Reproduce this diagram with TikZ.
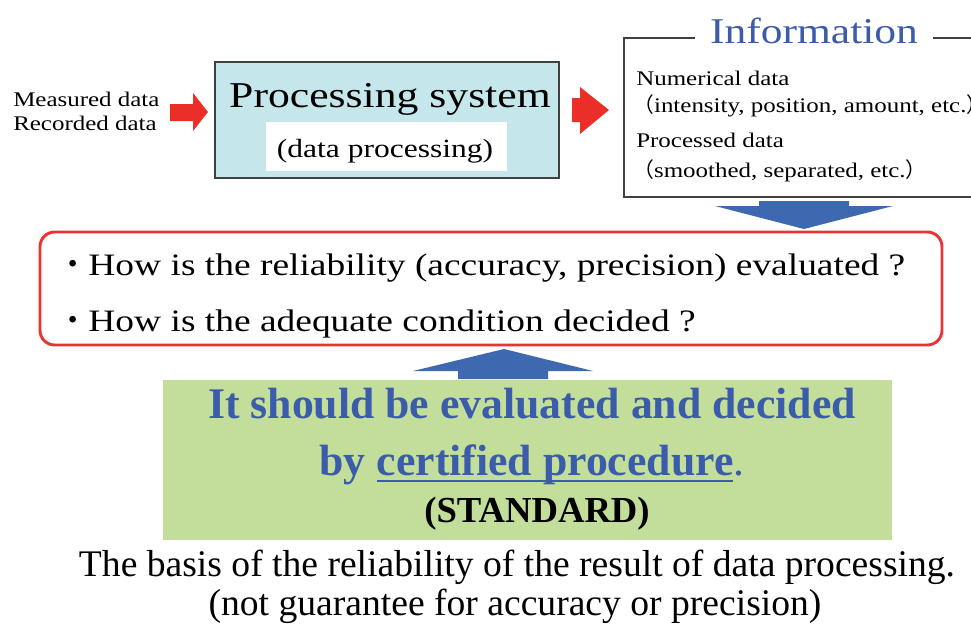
\documentclass[tikz,border=0pt]{standalone}
\usepackage{fontspec}
\setmainfont{Liberation Serif}
\newfontfamily\wideserif[FakeStretch=1.2]{Liberation Serif}
\newfontfamily\cjk{Noto Sans CJK JP}

\definecolor{arrowred}{RGB}{236,46,40}
\definecolor{boxred}{RGB}{232,52,50}
\definecolor{arrowblue}{RGB}{62,104,176}
\definecolor{textblue}{RGB}{59,92,170}
\definecolor{procfill}{RGB}{197,230,234}
\definecolor{greenfill}{RGB}{195,222,155}
\definecolor{framegray}{RGB}{64,64,64}

\newcommand{\fsz}[1]{\fontsize{#1}{#1}\selectfont}
% blue underline drawn a fixed distance below the baseline
\newcommand{\bluline}[1]{\setbox0\hbox{#1}\rlap{\color{textblue}\rule[-5.4pt]{\wd0}{1.3pt}}\box0}

\tikzset{
  txt/.style={inner sep=0pt},
  sidelabel/.style={txt, anchor=base west, font=\wideserif\fsz{15.6pt}},
  infoline/.style={txt, anchor=base west, font=\wideserif\fsz{15.6pt}},
  question/.style={txt, anchor=base west, font=\wideserif\fsz{23.4pt}},
  verdict/.style={txt, anchor=base, font=\bfseries\fsz{32.8pt}, text=textblue},
  footnote/.style={txt, anchor=base, font=\fsz{28.2pt}},
  redarrow/.style={fill=arrowred},
  bluearrow/.style={fill=arrowblue},
}

\begin{document}
\begin{tikzpicture}[x=0.75pt,y=-0.75pt]
\useasboundingbox (0,0) rectangle (971,628);

% input labels
\node[sidelabel] (meas) at (13,106) {Measured data};
\node[sidelabel] (rec) at (13,130) {Recorded data};

% processing system
\node[draw=framegray, line width=1.1pt, fill=procfill,
      minimum width=258pt, minimum height=87pt] (proc) at (387,120) {};
\node[fill=white, minimum width=180.75pt, minimum height=36.75pt] (procsub) at (386.5,146.5) {};
\node[txt, anchor=base, font=\wideserif\fsz{27.3pt}] (proctitle) at (390,107) {Processing system};
\node[txt, anchor=base, font=\wideserif\fsz{19.7pt}] (proctext) at (385,157) {(data processing)};

% information box (open to the right)
\node[draw=framegray, line width=0.8pt, minimum width=282pt, minimum height=119.25pt] (info) at (812,117.5) {};
\node[txt, anchor=base, fill=white, inner xsep=11pt, text=textblue,
      font=\wideserif\fsz{27.2pt}] (infotitle) at (814,43) {Information};
\node[infoline] (num) at (636,85) {Numerical data};
\node[infoline] (numx) at (633,112) {{\cjk （}intensity, position, amount, etc.{\cjk ）}};
\node[infoline] (prc) at (636,147) {Processed data};
\node[infoline] (prcx) at (633,177) {{\cjk （}smoothed, separated, etc.{\cjk ）}};

% red block arrows
\fill[redarrow] (170,104) -- (193,104) -- (193,93) -- (208,112) -- (193,131)
  -- (193,121) -- (170,121) -- cycle;
\fill[redarrow] (572,98) -- (580,98) -- (580,87) -- (609,110) -- (580,134)
  -- (580,122) -- (572,122) -- cycle;

% questions
\node[draw=boxred, line width=2.2pt, rounded corners=11pt,
      minimum width=676.5pt, minimum height=84.75pt] (qbox) at (491,288.5) {};
\node[question] (q1) at (57,275) {{\cjk ・}How is the reliability (accuracy, precision) evaluated ?};
\node[question] (q2) at (57,331) {{\cjk ・}How is the adequate condition decided ?};

% blue block arrows
\fill[bluearrow] (759,201) -- (849,201) -- (849,206) -- (893,206) -- (804,229)
  -- (715,206) -- (759,206) -- cycle;
\fill[bluearrow] (458,379) -- (548,379) -- (548,371) -- (593,371) -- (504,349)
  -- (413,371) -- (458,371) -- cycle;

% standard
\node[fill=greenfill, minimum width=546.75pt, minimum height=120pt] (std) at (527.5,460) {};
\node[verdict] (v1) at (532,418) {It should be evaluated and decided};
\node[verdict] (v2) at (532,475) {by \bluline{certified procedure}{\mdseries .}};
\node[txt, anchor=base, font=\bfseries\fsz{27.5pt}] (v3) at (537,522) {(STANDARD)};

% closing remark
\node[footnote] (b1) at (517,576) {The basis of the reliability of the result of data processing.};
\node[footnote] (b2) at (515,615) {(not guarantee for accuracy or precision)};
\end{tikzpicture}
\end{document}
